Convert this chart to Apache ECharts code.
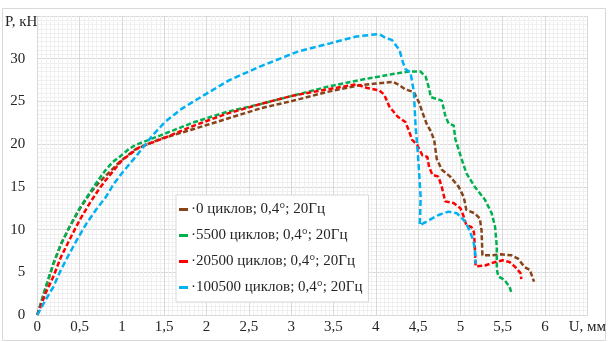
<!DOCTYPE html>
<html>
<head>
<meta charset="utf-8">
<script src="https://cdn.jsdelivr.net/npm/echarts@6/dist/echarts.min.js"></script>
<style>html,body{margin:0;padding:0;background:#fff}#c{width:609px;height:342px}</style>
</head>
<body>
<div id="c"></div>
<script>
var seriesNames = ['·0 циклов; 0,4°; 20Гц', '·5500 циклов; 0,4°; 20Гц', '·20500 циклов; 0,4°; 20Гц', '·100500 циклов; 0,4°; 20Гц'];
var seriesColors = ['#86441a', '#00b050', '#ff0000', '#00b0f0'];

var brownU = [0,0.1,0.19,0.28,0.38,0.5,0.62,0.72,0.81,0.97,1.16,1.45,1.86,2.25,2.64,3.03,3.42,3.81,4.0,4.2,4.28,4.35,4.45,4.51,4.57,4.6,4.65,4.69,4.72,4.78,4.88,4.98,5.04,5.07,5.17,5.23,5.25,5.26,5.37,5.48,5.6,5.68,5.76,5.82,5.87];
var brownP = [0,3.2,6.0,8.3,10.3,12.4,14.2,15.4,16.3,17.9,19.4,20.6,21.8,23.0,24.2,25.1,26.1,26.9,27.1,27.3,26.9,26.4,26.1,24.9,23.2,22.4,21.5,20.5,18.3,17.0,16.2,15.0,13.8,12.3,11.9,11.3,9.9,7.0,7.0,7.1,7.0,6.6,5.6,5.3,3.9];

var greenU = [0,0.1,0.19,0.28,0.38,0.5,0.62,0.72,0.81,0.89,0.97,1.08,1.16,1.45,1.86,2.25,2.64,3.03,3.42,3.81,4.2,4.39,4.53,4.59,4.63,4.65,4.78,4.82,4.86,4.92,4.94,5.0,5.07,5.17,5.29,5.37,5.41,5.43,5.43,5.45,5.52,5.58,5.6];
var greenP = [0,3.3,6.0,8.3,10.3,12.5,14.3,15.8,17.0,17.9,18.5,19.4,19.9,21.0,22.6,23.8,24.7,25.7,26.7,27.5,28.2,28.5,28.5,27.9,26.5,25.5,25.1,23.4,22.4,22.2,20.6,18.7,16.6,15.0,13.5,11.9,10.3,8.0,5.3,4.5,4.1,3.3,2.7];

var redU = [0,0.1,0.19,0.28,0.38,0.5,0.62,0.72,0.81,1.0,1.2,1.47,1.86,2.25,2.64,3.03,3.42,3.77,3.89,4.04,4.1,4.16,4.26,4.35,4.39,4.43,4.49,4.55,4.61,4.63,4.67,4.74,4.78,4.82,4.92,5.0,5.04,5.07,5.13,5.16,5.17,5.18,5.29,5.41,5.5,5.58,5.65,5.71,5.72];
var redP = [0,2.6,4.5,6.8,8.8,11.1,13.1,14.6,15.8,18.1,19.6,20.6,22.2,23.6,24.7,25.7,26.4,27.0,26.6,26.3,25.8,24.4,23.2,22.6,21.6,20.5,19.9,18.7,18.5,17.3,16.4,16.2,15.0,13.3,13.1,12.5,11.5,10.5,10.3,9.7,8.0,5.7,5.8,6.2,6.4,6.2,5.6,4.9,4.2];

var cyanU = [0,0.1,0.19,0.28,0.38,0.48,0.58,0.7,0.81,0.9,1.0,1.16,1.36,1.51,1.7,1.88,2.27,2.66,3.07,3.46,3.77,3.95,4.04,4.12,4.19,4.28,4.32,4.35,4.41,4.45,4.47,4.5,4.53,4.52,4.63,4.74,4.86,4.96,5.04,5.09,5.15,5.17,5.18];
var cyanP = [0,1.8,3.3,5.3,7.2,9.0,10.7,12.4,13.8,15.3,16.6,18.5,21.0,22.6,24.1,25.2,27.5,29.2,30.8,31.8,32.6,32.8,32.9,32.4,32.2,31.0,29.6,28.8,28.4,26.1,22.2,18.5,13.8,10.5,11.1,11.7,12.1,11.9,11.1,10.3,8.8,7.8,6.0];

var xTicks = {min: 0, max: 6.5, interval: 0.5};
var yTicks = {min: 0, max: 35, interval: 5};

function pairs(u, p) { return u.map(function (x, i) { return [x, p[i]]; }); }
var allU = [brownU, greenU, redU, cyanU];
var allP = [brownP, greenP, redP, cyanP];
var dashes = [[5, 2.5], [5, 2.5], [5, 2.5], [6, 3]];

var chart = echarts.init(document.getElementById('c'), null, {renderer: 'canvas'});
var font = 'Liberation Serif, "Times New Roman", serif';
chart.setOption({
  animation: false,
  backgroundColor: '#fff',
  graphic: [{
    type: 'rect', left: 0, top: 6, z: -10,
    shape: {width: 603, height: 332},
    style: {fill: 'none', stroke: '#d9d9d9', lineWidth: 1}
  }],
  grid: {left: 37, right: 15, top: 16, bottom: 27, containLabel: false},
  xAxis: {
    type: 'value', min: xTicks.min, max: xTicks.max, interval: xTicks.interval,
    axisLine: {show: true, lineStyle: {color: '#d9d9d9'}},
    axisTick: {show: false},
    minorTick: {show: false, splitNumber: 10},
    minorSplitLine: {show: true, lineStyle: {color: '#f0f0f0', width: 1}},
    splitLine: {show: true, lineStyle: {color: '#d9d9d9', width: 1}},
    axisLabel: {
      margin: 5, fontFamily: font, fontSize: 15, color: '#262626', showMaxLabel: true,
      formatter: function (v) { return v === 6.5 ? 'U, мм' : String(v).replace('.', ','); }
    }
  },
  yAxis: {
    type: 'value', min: yTicks.min, max: yTicks.max, interval: yTicks.interval,
    name: 'P, кН', nameLocation: 'end', nameGap: -6,
    nameTextStyle: {fontFamily: font, fontSize: 15, color: '#262626', align: 'right', verticalAlign: 'middle', backgroundColor: '#fff', padding: [2, 0, 2, 2]},
    axisLine: {show: true, lineStyle: {color: '#d9d9d9'}},
    axisTick: {show: false},
    minorTick: {show: false, splitNumber: 10},
    minorSplitLine: {show: true, lineStyle: {color: '#f0f0f0', width: 1}},
    splitLine: {show: true, lineStyle: {color: '#d9d9d9', width: 1}},
    axisLabel: {
      margin: 12, fontFamily: font, fontSize: 15, color: '#262626',
      formatter: function (v) { return v === 35 ? '' : String(v); }
    }
  },
  legend: {
    orient: 'vertical', left: 176, top: 195,
    backgroundColor: '#fff', borderColor: '#d9d9d9', borderWidth: 1,
    padding: [7, 6, 7, 3], itemGap: 11,
    itemWidth: 9, itemHeight: 3, icon: 'rect',
    textStyle: {fontFamily: font, fontSize: 15, color: '#262626', padding: [0, 0, 0, -2]},
    data: seriesNames
  },
  series: seriesNames.map(function (n, i) {
    return {
      name: n, type: 'line', data: pairs(allU[i], allP[i]),
      showSymbol: false, symbol: 'none', smooth: false,
      color: seriesColors[i],
      lineStyle: {color: seriesColors[i], width: 2.5, type: dashes[i]}
    };
  })
});
</script>
</body>
</html>
